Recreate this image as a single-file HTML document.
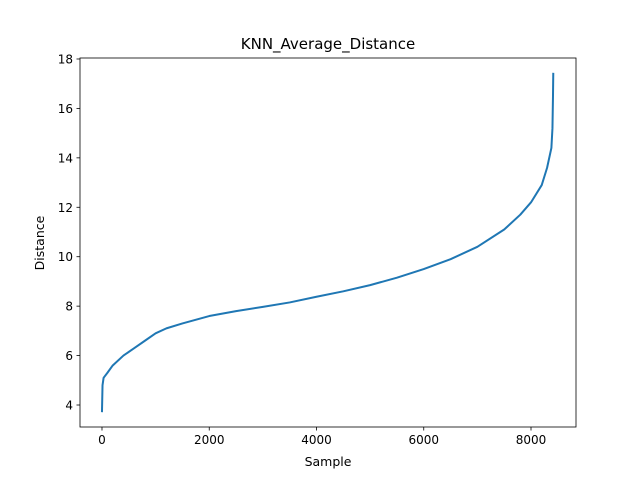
<!DOCTYPE html>
<html><head><meta charset="utf-8"><style>
html,body{margin:0;padding:0;background:#fff;}
svg text{font-family:"DejaVu Sans","Liberation Sans",sans-serif;fill:#000;}
</style></head><body>
<svg id="chart" width="640" height="480" viewBox="0 0 640 480" xmlns="http://www.w3.org/2000/svg">
<rect width="640" height="480" fill="#fff"/>
<text x="328" y="49" font-size="15" text-anchor="middle">KNN_Average_Distance</text>
<g id="plot"></g>
<text x="328" y="466" font-size="12.5" text-anchor="middle">Sample</text>
<text x="0" y="0" font-size="12.5" text-anchor="middle" transform="translate(44,243) rotate(-90)">Distance</text>
</svg>
<script>
const sampleIdx = [0,10,30,100,200,400,600,800,1000,1200,1500,2000,2500,3000,3500,4000,4500,5000,5500,6000,6500,7000,7500,7800,8000,8200,8300,8380,8400,8410,8415];
const distances = [3.75,4.8,5.1,5.3,5.6,6.0,6.3,6.6,6.9,7.1,7.3,7.6,7.8,7.97,8.15,8.38,8.6,8.85,9.15,9.5,9.9,10.4,11.1,11.7,12.2,12.9,13.6,14.4,15.2,16.5,17.4];
const xTicks = [0,2000,4000,6000,8000];
const yTicks = [4,6,8,10,12,14,16,18];

const NS = "http://www.w3.org/2000/svg";
const L=80,R=576,T=58,B=427;
const xMin=-410,xMax=8839,yMin=3.11,yMax=18.04;
const sx=v=>L+(v-xMin)/(xMax-xMin)*(R-L);
const sy=v=>B-(v-yMin)/(yMax-yMin)*(B-T);
const g=document.getElementById('plot');
function mk(tag,attrs){const e=document.createElementNS(NS,tag);for(const k in attrs)e.setAttribute(k,attrs[k]);g.appendChild(e);return e;}

const pts=sampleIdx.map((s,i)=>sx(s).toFixed(2)+","+sy(distances[i]).toFixed(2)).join(" ");
const line=mk('polyline',{points:pts,fill:'none',stroke:'#1f77b4','stroke-width':2,'stroke-linejoin':'round','stroke-linecap':'square'});



const frame=mk('rect',{x:L,y:T,width:R-L,height:B-T,fill:'none',stroke:'#000','stroke-width':0.8});



xTicks.forEach(v=>{
  const x=sx(v);
  const t=mk('line',{x1:x,x2:x,y1:B,y2:B+3.5,stroke:'#000','stroke-width':0.8});
  
  
  const lb=mk('text',{x:x,y:B+17,'font-size':12,'text-anchor':'middle'});
  lb.textContent=v;
  
  
});
yTicks.forEach(v=>{
  const y=sy(v);
  const t=mk('line',{x1:L-3.5,x2:L,y1:y,y2:y,stroke:'#000','stroke-width':0.8});
  
  
  const lb=mk('text',{x:L-7,y:y+4.5,'font-size':12,'text-anchor':'end'});
  lb.textContent=v;
  
  
});
</script>
</body></html>
